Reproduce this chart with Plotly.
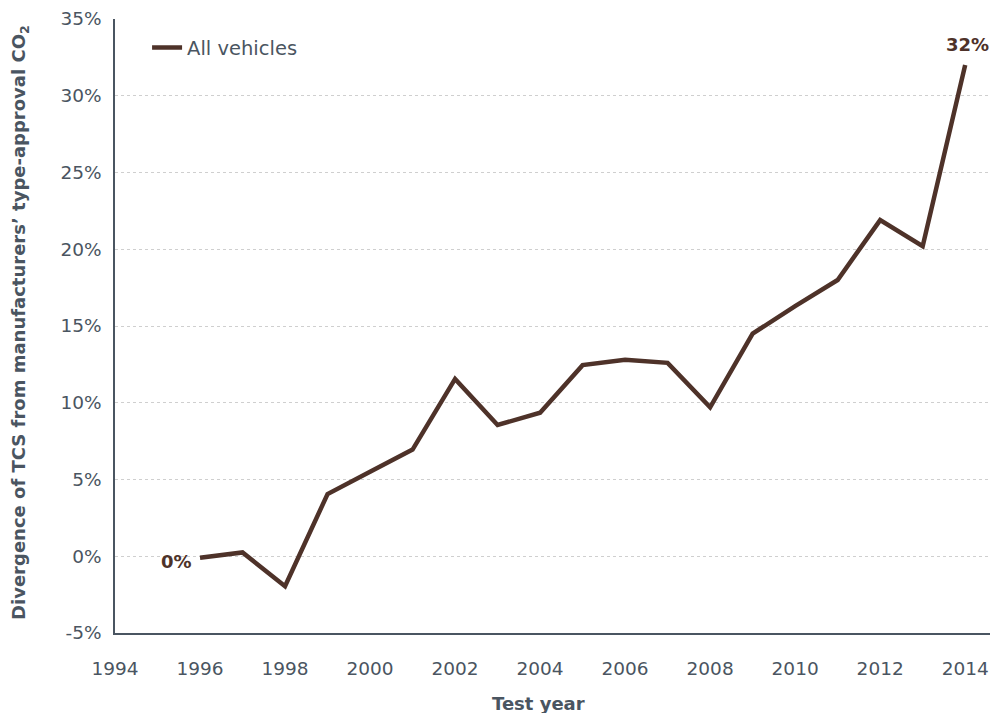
import plotly.graph_objects as go

years = list(range(1996, 2015))
divergence = [-0.1, 0.25, -1.95, 4.05, 5.5, 6.95, 11.55, 8.55, 9.35, 12.45,
              12.8, 12.6, 9.7, 14.5, 16.3, 18.0, 21.9, 20.2, 32.0]
series_name = "All vehicles"
y_ticks = [-5, 0, 5, 10, 15, 20, 25, 30, 35]
x_ticks = list(range(1994, 2015, 2))

line_color = "#4e3229"
text_color = "#4a5561"
font_family = "DejaVu Sans, sans-serif"

fig = go.Figure()
fig.add_trace(go.Scatter(x=years, y=divergence, mode="lines", name=series_name,
                         line=dict(color=line_color, width=4.5)))

fig.add_annotation(x=years[0], y=divergence[0], text="<b>0%</b>", showarrow=False,
                   xanchor="right", xshift=-6, yshift=-4,
                   font=dict(size=18, color=line_color, family=font_family))
fig.add_annotation(x=years[-1], y=divergence[-1], text="<b>32%</b>", showarrow=False,
                   yanchor="bottom", yshift=8, xshift=2,
                   font=dict(size=18, color=line_color, family=font_family))
# axis titles
fig.add_annotation(xref="paper", yref="paper", x=0.475, y=0, yshift=-70,
                   text="<b>Test year</b>", showarrow=False, yanchor="middle",
                   font=dict(size=18, color=text_color, family=font_family))
fig.add_annotation(xref="paper", yref="paper", x=0, y=0.505, xshift=-95,
                   text="<b>Divergence of TCS from manufacturers’ type-approval CO<sub>2</sub></b>",
                   showarrow=False, textangle=-90, xanchor="center", yanchor="middle",
                   font=dict(size=18, color=text_color, family=font_family))

# page body adds an 8px margin, so figure is offset by 8px
fig.update_layout(
    width=998, height=705,
    margin=dict(l=107, r=0, t=11, b=80, autoexpand=False),
    plot_bgcolor="white", paper_bgcolor="white",
    font=dict(family=font_family, color=text_color, size=18),
    showlegend=True,
    legend=dict(x=0.036, y=0.985, xanchor="left", yanchor="top",
                bgcolor="rgba(0,0,0,0)", font=dict(size=19.5, color=text_color),
                itemwidth=30),
)
fig.update_xaxes(range=[1994, 2014.96], tickvals=x_ticks, showgrid=False,
                 showline=True, linecolor=text_color, linewidth=1.5,
                 ticks="", ticklabelstandoff=18, zeroline=False, automargin=False,
                 tickfont=dict(size=18.5, color=text_color))
fig.update_yaxes(range=[-5, 35], tickvals=y_ticks,
                 ticktext=[f"{v}%" for v in y_ticks],
                 showgrid=True, gridcolor="#cfcfcf", griddash="dot", gridwidth=1,
                 showline=True, linecolor=text_color, linewidth=1.5,
                 ticks="", ticklabelstandoff=8, zeroline=False, automargin=False,
                 tickfont=dict(size=18.5, color=text_color))

fig.write_html("out.html")
